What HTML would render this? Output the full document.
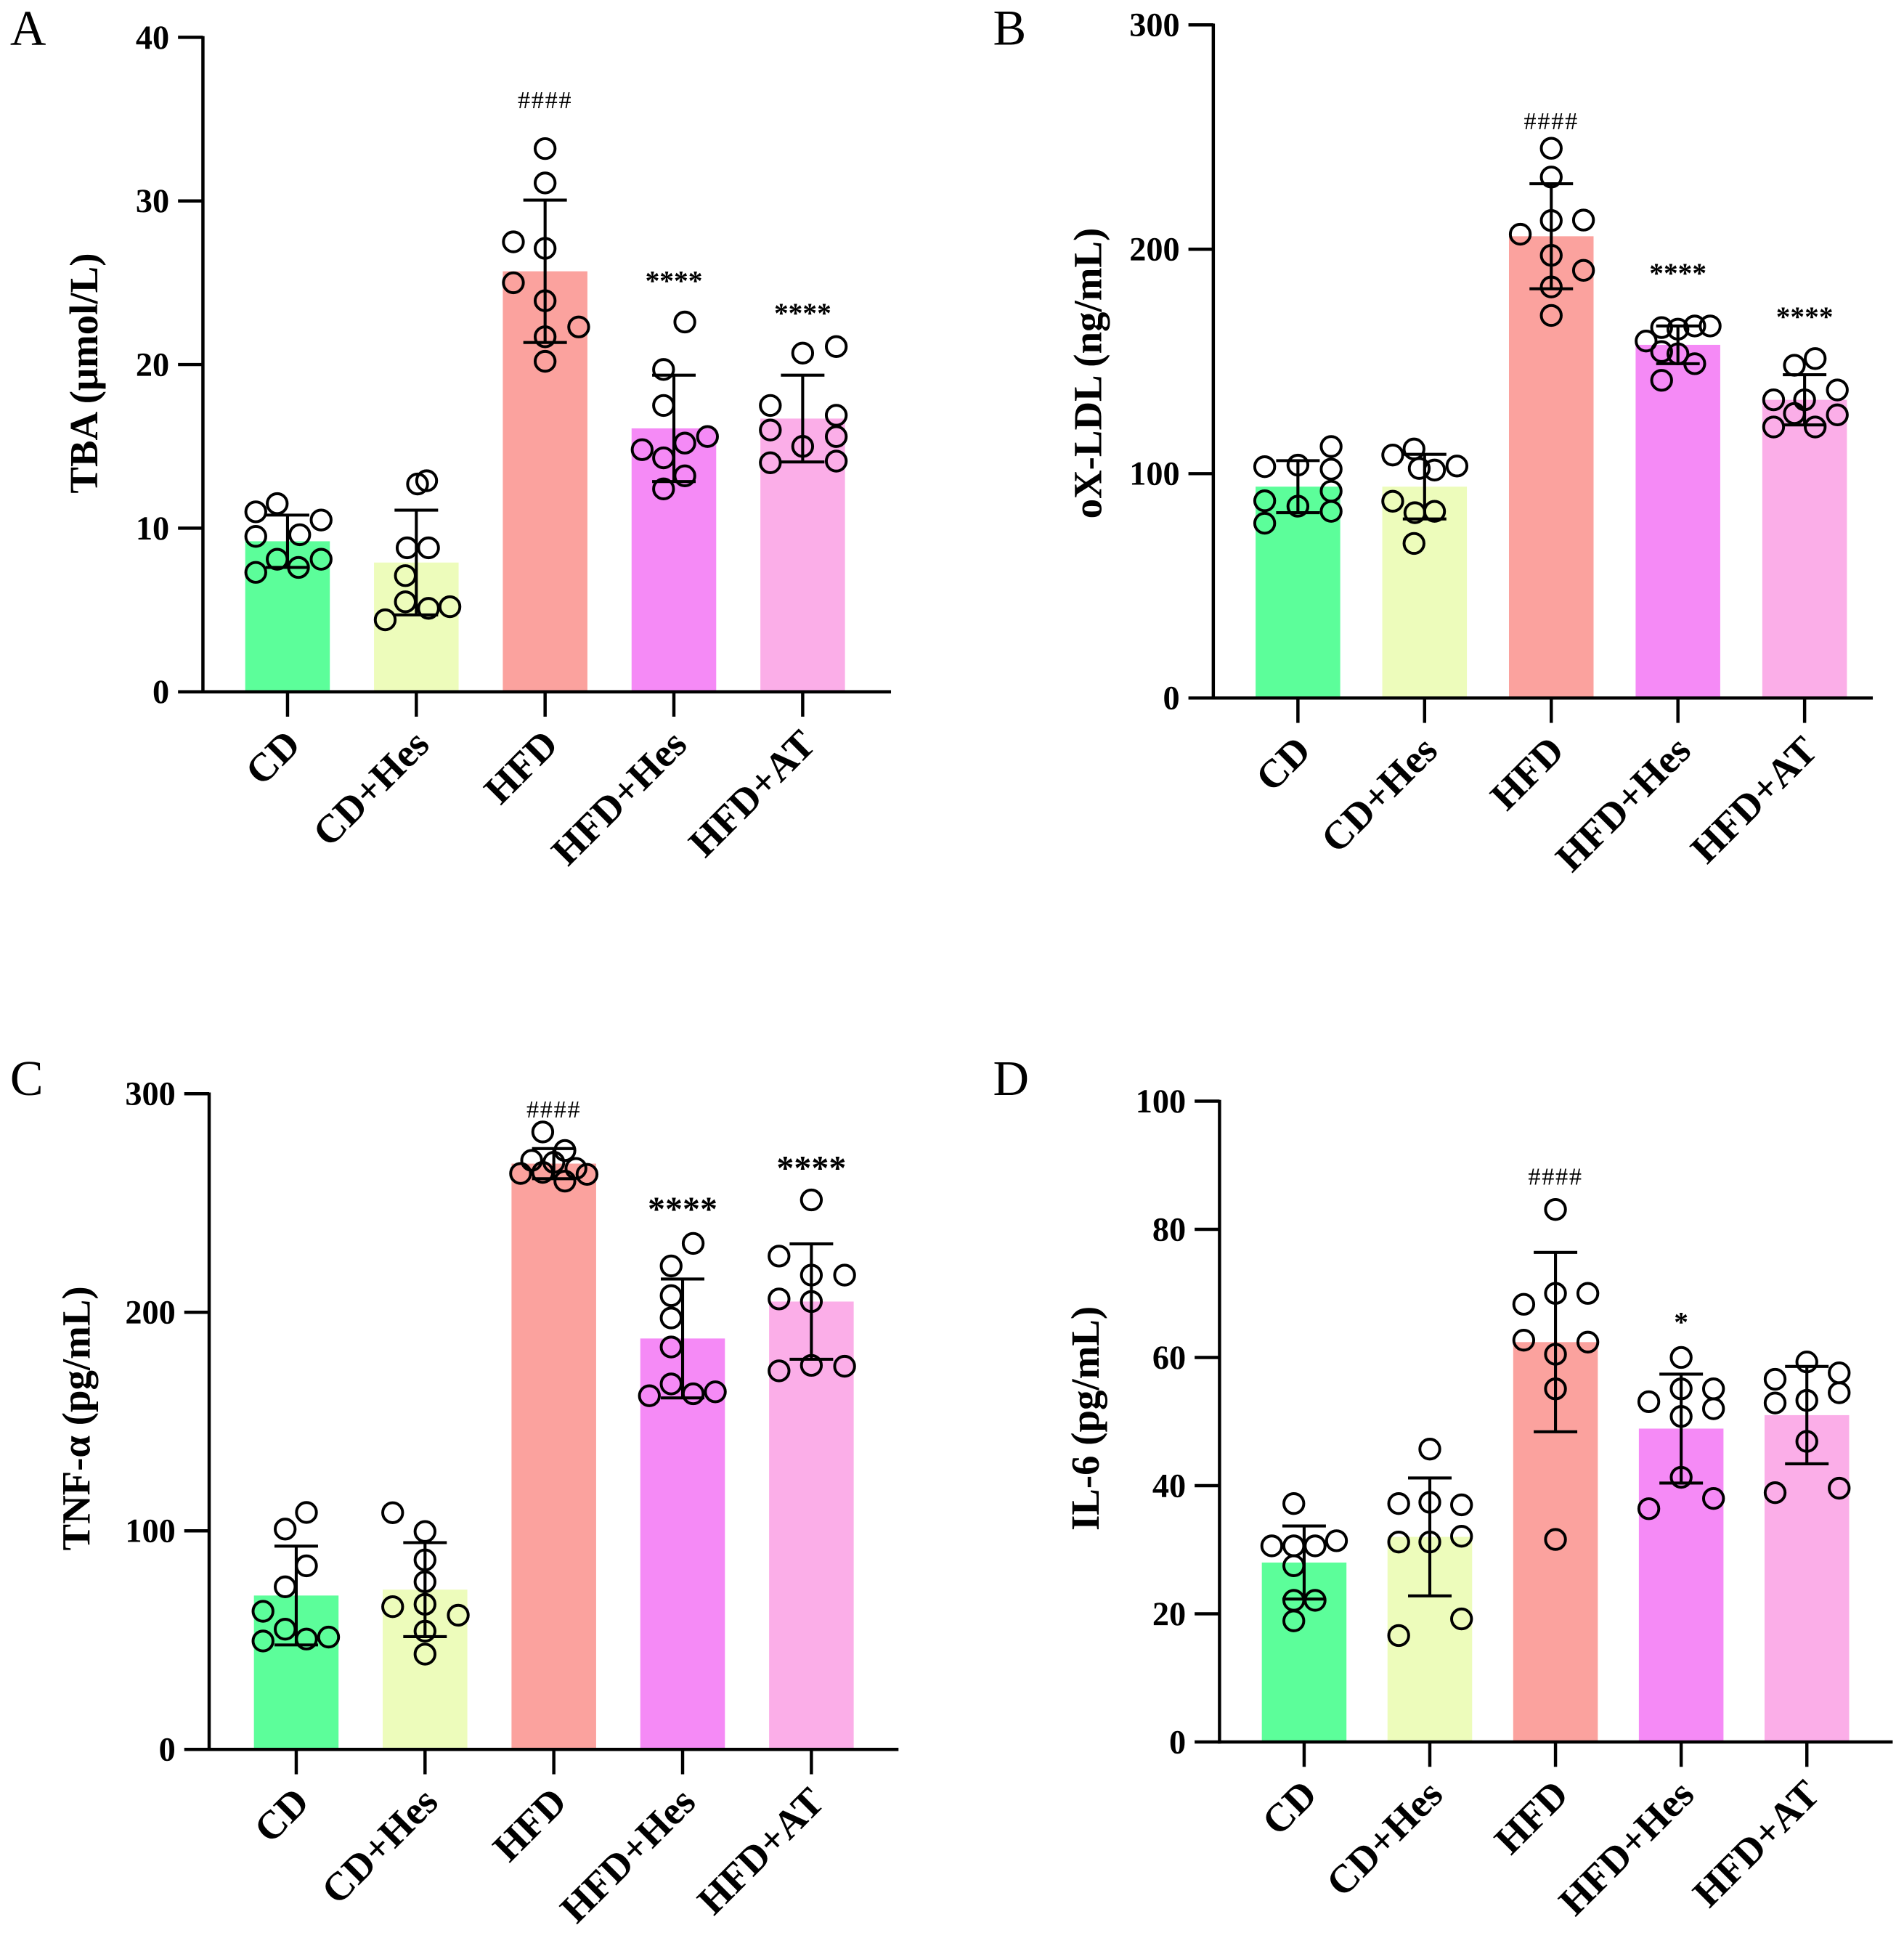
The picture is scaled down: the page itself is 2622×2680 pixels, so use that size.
<!DOCTYPE html>
<html><head><meta charset="utf-8">
<style>
html,body{margin:0;padding:0;background:#fff;}
svg{display:block;}
text{font-family:"Liberation Serif","DejaVu Serif",serif;}
</style></head>
<body>
<svg id="fig" xmlns="http://www.w3.org/2000/svg" width="2622" height="2680" viewBox="0 0 1530 1564">
<rect width="1530" height="1564" fill="#fff"/>
</svg>
<script>
const categories = ["CD","CD+Hes","HFD","HFD+Hes","HFD+AT"];
const barColors = ["#5cfe9a","#edfcbb","#fba29e","#f58af6","#fbaee8"];

// Panel A: TBA
const aTicks = [0,10,20,30,40];
const aMeans = [9.2, 7.9, 25.7, 16.1, 16.7];
const aSD = [1.6, 3.2, 4.35, 3.25, 2.65];
const aPoints = [
  [11.0,11.5,10.5,9.5,9.6,8.1,8.1,7.6,7.3],
  [12.7,12.9,8.8,8.8,7.1,5.5,5.1,5.2,4.4],
  [33.2,31.1,27.5,27.1,25.0,23.9,22.3,21.7,20.2],
  [22.6,19.7,17.5,14.8,15.2,15.6,14.3,13.2,12.4],
  [21.1,20.7,17.5,16.9,16.0,15.0,15.6,14.0,14.1]
];
const aMarks = ["","","####","****","****"];

// Panel B: oX-LDL
const bTicks = [0,100,200,300];
const bMeans = [94.2, 94.2, 205.8, 157.4, 132.9];
const bSD = [11.6, 14.4, 23.4, 8.4, 11.2];
const bPoints = [
  [103.1,103.8,112.1,102.0,87.9,85.5,92.2,83.2,77.9],
  [108.3,111.0,102.3,101.6,103.4,87.7,82.6,83.2,68.9],
  [245,232.2,206.7,212.8,213.0,197.3,190.6,183.2,170.5],
  [159.1,165.1,164.4,165.8,165.8,154.4,153.4,149.0,141.6],
  [148.3,151.3,132.9,132.9,137.3,126.8,120.8,120.8,126.2]
];
const bMarks = ["","","####","****","****"];

// Panel C: TNF-alpha
const cTicks = [0,100,200,300];
const cMeans = [70.4, 73.1, 268.0, 188.0, 204.9];
const cSD = [22.6, 21.5, 6.9, 27.2, 26.4];
const cPoints = [
  [108.4,100.8,84.0,74.4,63.2,55.0,49.6,50.5,51.4],
  [108.3,99.7,86.7,76.7,65.3,66.4,61.4,54.1,43.6],
  [282.5,274.0,269.5,268.6,265.8,263.5,264.0,263.1,260.0],
  [231.5,221.2,207.6,197.4,184.1,167.2,161.8,162.7,163.6],
  [251.4,225.7,217.0,217.0,206.1,204.9,173.2,175.7,175.3]
];
const cMarks = ["","","####","****","****"];

// Panel D: IL-6
const dTicks = [0,20,40,60,80,100];
const dMeans = [28.0, 32.0, 62.4, 48.9, 51.0];
const dSD = [5.7, 9.2, 14.0, 8.5, 7.6];
const dPoints = [
  [37.2,30.6,30.6,30.6,31.4,27.5,22.1,22.1,18.9],
  [45.7,37.2,37.4,37.0,31.2,31.2,32.1,19.2,16.6],
  [83.1,68.3,70.0,70.0,62.7,62.4,60.5,55.1,31.6],
  [60.0,53.1,55.1,55.1,50.8,52.0,41.3,36.4,38.0],
  [59.3,56.6,57.6,52.9,53.3,54.5,46.9,38.9,39.6]
];
const dMarks = ["","","####","*",""];

// ---- layout (not data) ----
const swarmA = [[-25.5,-8.3,27,-25.5,9.8,-8.3,27,8.8,-25.5],[1,8.3,-7.4,9.8,-8.8,-8.8,9.8,27,-25],[0,0,-25.5,0,-25.5,0,27,0,0],[8.8,-8.3,-8.3,-25.5,8.8,27,-8.3,8.8,-8.3],[27,0,-26,27,-26,0,27,-26,27]];
const swarmB = [[-26.7,0,26.7,26.7,-26.7,0,26.7,26.7,-26.7],[-25.6,-8.5,-4.3,8,26,-25.6,-7.8,8,-8.5],[0,0,-24.9,0,25.9,0,25.9,0,0],[-25.6,-13.1,0,13.5,25.9,-13.1,0,13.5,-13.1],[-8.2,8.5,-24.9,0,26.3,-8.2,-24.9,8.5,26.3]];
const swarmC = [[8.2,-8.9,8.2,-8.9,-26.7,-8.9,-26.7,8.2,26],[-26,0,0,0,-26,0,26.7,0,0],[-8.9,8.9,-17.8,0,17.8,-26.7,-8.9,26.7,8.9],[8.5,-9.2,-9.2,-9.2,-9.2,-9.2,-26.7,8.5,26.3],[0,-26,0,26.7,-26,0,-26,0,26.7]];
const swarmD = [[-8.3,-26,-8.3,8.8,26,-8.3,-8.3,8.8,-8.3],[0,-25,0,25.5,-25,0,25.5,25.5,-25],[0,-25.5,0,26,-25.5,26,0,0,0],[0,-26,0,26,0,26,0,-26,26],[0,-25.5,26,-25.5,0,26,0,-25.5,26]];

const NS = "http://www.w3.org/2000/svg";
const svg = document.getElementById("fig");
function mk(tag, attrs, parent){
  const e = document.createElementNS(NS, tag);
  for (const k in attrs) e.setAttribute(k, attrs[k]);
  (parent||svg).appendChild(e);
  return e;
}

function panel(cfg){
  const g = mk("g", {});
  
  
  const yMax = cfg.ticks[cfg.ticks.length-1];
  const yScale = v => cfg.y0 - (v / yMax) * (cfg.y0 - cfg.yTop);
  const xScale = i => cfg.x1 + i * cfg.step;
  const halfW = 34;

  const L = mk("text", {x:cfg.lx, y:cfg.ly, "font-size":40, fill:"#000"}, g);
  L.textContent = cfg.key.toUpperCase();
  
  

  cfg.means.forEach((m,i)=>{
    const r = mk("rect", {x:xScale(i)-halfW, y:yScale(m), width:halfW*2, height:cfg.y0-yScale(m), fill:barColors[i]}, g);
    
    
  });
  cfg.means.forEach((m,i)=>{
    const cx = xScale(i), hi = yScale(m + cfg.sd[i]), lo = yScale(m - cfg.sd[i]);
    const eg = mk("g", {stroke:"#000", "stroke-width":2.4, fill:"none"}, g);
    
    
    mk("line", {x1:cx, x2:cx, y1:hi, y2:lo}, eg);
    mk("line", {x1:cx-17.5, x2:cx+17.5, y1:hi, y2:hi}, eg);
    mk("line", {x1:cx-17.5, x2:cx+17.5, y1:lo, y2:lo}, eg);
  });
  cfg.points.forEach((arr,i)=>{
    arr.forEach((v,j)=>{
      const c = mk("circle", {cx:xScale(i)+cfg.swarm[i][j], cy:yScale(v), r:8, fill:"none", stroke:"#000", "stroke-width":2.3}, g);
      
      
    });
  });
  cfg.marks.forEach((s,i)=>{
    if(!s) return;
    const big = cfg.bigStars && s[0]==="*";
    const t = mk("text", {x:xScale(i), y:cfg.markY[i], "text-anchor":"middle", "font-size": big?28:(s[0]==="#"?20:23), "font-weight": s[0]==="*"?"bold":"normal", "letter-spacing": s[0]==="#"?1:0, fill:"#000"}, g);
    t.textContent = s;
    
    
  });
  const ax = mk("g", {stroke:"#000", "stroke-width":2.6}, g);
  
  
  mk("line", {x1:cfg.ax, x2:cfg.ax, y1:cfg.yTop-1, y2:cfg.y0+1.3}, ax);
  mk("line", {x1:cfg.ax-1.3, x2:cfg.xEnd, y1:cfg.y0, y2:cfg.y0}, ax);
  cfg.ticks.forEach(t=>{
    const y = yScale(t);
    mk("line", {x1:cfg.ax-20, x2:cfg.ax, y1:y, y2:y}, ax);
    const tl = mk("text", {x:cfg.ax-27, y:y+9, "text-anchor":"end", "font-size":27, "font-weight":"bold", fill:"#000", stroke:"none"}, g);
    tl.textContent = t;
    
    
  });
  categories.forEach((c,i)=>{
    const x = xScale(i);
    mk("line", {x1:x, x2:x, y1:cfg.y0, y2:cfg.y0+20}, ax);
    const tx = x + 12, ty = cfg.y0 + 44;
    const cl = mk("text", {x:tx, y:ty, "text-anchor":"end", "font-size":32, "font-weight":"bold", fill:"#000", transform:`rotate(-45 ${tx} ${ty})`}, g);
    cl.textContent = c;
    
    
  });
  const yt = mk("text", {x:cfg.tx, y:cfg.ty, "text-anchor":"middle", "font-size":32, "font-weight":"bold", fill:"#000", transform:`rotate(-90 ${cfg.tx} ${cfg.ty})`}, g);
  yt.textContent = cfg.title;
  
  
}

panel({key:"a", ticks:aTicks, means:aMeans, sd:aSD, points:aPoints, marks:aMarks, swarm:swarmA,
  ax:163, y0:556, yTop:30, x1:231, step:103.5, xEnd:716, lx:8, ly:36, tx:78, ty:300,
  title:"TBA (μmol/L)", markY:[0,0,87,233,259]});
panel({key:"b", ticks:bTicks, means:bMeans, sd:bSD, points:bPoints, marks:bMarks, swarm:swarmB,
  ax:975, y0:561, yTop:20, x1:1043, step:101.8, xEnd:1505, lx:798, ly:36, tx:885, ty:300,
  title:"oX-LDL (ng/mL)", markY:[0,0,104,227,262]});
panel({key:"c", ticks:cTicks, means:cMeans, sd:cSD, points:cPoints, marks:cMarks, swarm:swarmC,
  ax:168, y0:1406, yTop:879, x1:238, step:103.5, xEnd:722, lx:8, ly:880, tx:72, ty:1140,
  title:"TNF-α (pg/mL)", markY:[0,0,898,981,948], bigStars:true});
panel({key:"d", ticks:dTicks, means:dMeans, sd:dSD, points:dPoints, marks:dMarks, swarm:swarmD,
  ax:980, y0:1400, yTop:885, x1:1048, step:101, xEnd:1521, lx:798, ly:880, tx:883, ty:1140,
  title:"IL-6 (pg/mL)", markY:[0,0,952,1070,0]});
</script>
</body></html>
